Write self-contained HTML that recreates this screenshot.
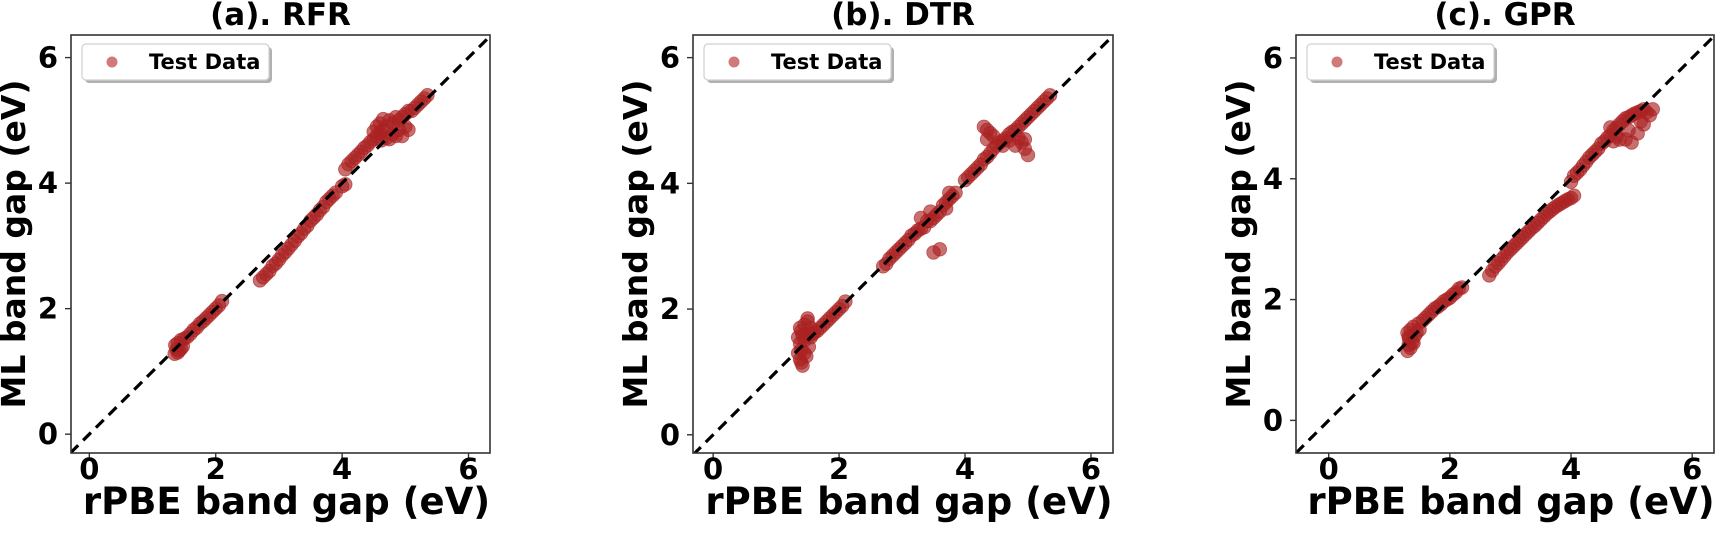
<!DOCTYPE html>
<html><head><meta charset="utf-8">
<style>
html,body{margin:0;padding:0;background:#fff;}
svg{display:block;}
text{font-family:"DejaVu Sans","Liberation Sans",sans-serif;font-weight:bold;fill:#000;}
</style></head>
<body>
<svg id="fig" width="1717" height="533" viewBox="0 0 1717 533" xmlns="http://www.w3.org/2000/svg"></svg>
<script>
// ---- data ----
const panelTitles = ["(a). RFR", "(b). DTR", "(c). GPR"];
const tickValues = [0, 2, 4, 6];
const tickLabels = ["0", "2", "4", "6"];
const xLabel = "rPBE band gap (eV)";
const yLabel = "ML band gap (eV)";
const legendLabel = "Test Data";

const rfrX = [1.35,1.38,1.40,1.42,1.45,1.48,1.50,1.55,1.60,1.65,1.70,1.75,1.80,1.85,1.90,1.95,2.00,2.05,2.10,1.36,1.40,1.45,
 2.70,2.75,2.80,2.85,2.90,2.95,3.00,3.05,3.10,3.15,3.20,3.25,3.30,3.35,3.40,3.45,3.50,3.55,3.60,3.65,3.70,3.75,3.80,3.85,3.90,4.00,4.05,
 4.05,4.10,4.15,4.20,4.25,4.30,4.35,4.40,4.45,4.50,4.55,4.60,4.60,4.65,4.70,4.70,4.75,4.80,4.80,4.85,4.90,4.90,4.95,5.00,5.00,5.05,5.10,5.15,5.20,5.25,5.30,5.35,4.55,4.65,4.75,4.85,4.95,5.05,4.50,4.62];
const rfrY = [1.28,1.35,1.45,1.33,1.50,1.40,1.52,1.55,1.60,1.66,1.70,1.76,1.80,1.85,1.90,1.95,2.00,2.05,2.12,1.42,1.30,1.36,
 2.45,2.50,2.55,2.60,2.68,2.72,2.78,2.85,2.90,2.96,3.02,3.08,3.15,3.20,3.27,3.32,3.40,3.45,3.50,3.57,3.62,3.70,3.75,3.80,3.85,3.95,3.98,
 4.22,4.30,4.35,4.40,4.45,4.50,4.56,4.60,4.66,4.70,4.75,4.80,4.95,4.85,4.90,4.72,5.00,4.95,4.78,5.05,5.00,4.85,5.05,5.10,4.90,5.15,5.15,5.20,5.25,5.30,5.35,5.40,4.90,5.02,4.70,4.75,4.75,4.85,4.82,4.68];

const dtrX = [1.35,1.35,1.38,1.38,1.40,1.40,1.42,1.45,1.45,1.48,1.50,1.50,1.52,1.55,1.55,1.58,1.40,1.45,1.50,1.60,1.65,1.70,1.75,1.80,1.85,1.90,1.95,2.00,2.05,2.10,1.38,1.42,
 2.70,2.75,2.80,2.85,2.90,2.95,3.00,3.05,3.10,3.15,3.20,3.25,3.30,3.35,3.40,3.45,3.50,3.55,3.60,3.65,3.70,3.75,3.80,3.50,3.60,3.30,3.45,3.75,3.85,3.70,
 4.00,4.05,4.10,4.15,4.20,4.25,4.30,4.35,4.40,4.45,4.50,4.55,4.60,4.65,4.70,4.75,4.80,4.85,4.90,4.95,5.00,5.05,5.10,5.15,5.20,5.25,5.30,5.35,4.30,4.35,4.40,4.45,4.35,4.80,4.90,4.95,5.00,4.95,4.85,4.70,4.60];
const dtrY = [1.30,1.55,1.20,1.45,1.65,1.35,1.10,1.50,1.75,1.25,1.60,1.85,1.40,1.55,1.70,1.60,1.15,1.30,1.80,1.62,1.65,1.70,1.75,1.80,1.85,1.90,1.95,2.00,2.05,2.12,1.70,1.58,
 2.68,2.72,2.80,2.85,2.90,2.95,3.00,3.05,3.10,3.17,3.20,3.25,3.28,3.30,3.40,3.40,3.45,3.50,3.55,3.65,3.60,3.75,3.80,2.90,2.95,3.45,3.55,3.85,3.85,3.70,
 4.05,4.10,4.15,4.20,4.25,4.30,4.38,4.42,4.48,4.55,4.60,4.65,4.68,4.72,4.78,4.82,4.85,4.90,4.95,5.00,5.05,5.10,5.15,5.20,5.25,5.30,5.35,5.40,4.90,4.85,4.80,4.75,4.70,4.60,4.65,4.55,4.45,4.70,4.72,4.68,4.60];

const gprX = [1.30,1.30,1.32,1.33,1.35,1.35,1.38,1.40,1.42,1.45,1.48,1.50,1.55,1.60,1.65,1.70,1.75,1.80,1.85,1.90,1.95,2.00,2.05,2.10,2.15,2.20,1.32,1.40,
 2.65,2.70,2.75,2.80,2.85,2.90,2.95,3.00,3.05,3.10,3.15,3.20,3.25,3.30,3.35,3.40,3.45,3.50,3.55,3.60,3.65,3.70,3.75,3.80,3.85,3.90,3.95,4.00,4.05,
 4.00,4.05,4.10,4.15,4.20,4.25,4.30,4.35,4.40,4.45,4.50,4.55,4.60,4.65,4.70,4.75,4.80,4.85,4.90,4.95,5.00,5.05,5.10,5.15,5.20,5.25,5.30,5.35,4.70,4.80,4.90,5.00,5.10,5.20,4.75,4.95,5.15,4.65];
const gprY = [1.15,1.45,1.25,1.35,1.20,1.50,1.30,1.55,1.40,1.45,1.60,1.50,1.65,1.70,1.75,1.80,1.85,1.88,1.92,1.97,2.00,2.03,2.08,2.12,2.18,2.20,1.38,1.28,
 2.40,2.48,2.55,2.60,2.66,2.72,2.78,2.83,2.88,2.93,2.98,3.03,3.08,3.13,3.18,3.22,3.27,3.32,3.37,3.42,3.46,3.50,3.54,3.57,3.60,3.63,3.66,3.68,3.72,
 3.95,4.05,4.10,4.15,4.22,4.28,4.35,4.40,4.45,4.50,4.58,4.62,4.68,4.72,4.80,4.85,4.90,4.95,5.00,5.02,5.05,5.08,5.10,5.12,5.15,5.10,5.05,5.15,4.62,4.65,4.65,4.60,4.75,4.90,4.70,4.80,4.95,4.85];

const panelXs = [rfrX, dtrX, gprX];
const panelYs = [rfrY, dtrY, gprY];
const xLims = [[-0.29, 6.34], [-0.32, 6.35], [-0.54, 6.36]];
const yLims = [[-0.30, 6.36], [-0.29, 6.36], [-0.54, 6.38]];

// ---- layout ----
const frames = [
  {left:71, right:490, top:35, bottom:453},
  {left:693, right:1113, top:35, bottom:453},
  {left:1296, right:1714, top:35, bottom:453}
];
const NS = "http://www.w3.org/2000/svg";
const svg = document.getElementById("fig");
function mk(tag, attrs, parent){
  const e = document.createElementNS(NS, tag);
  for (const k in attrs) e.setAttribute(k, attrs[k]);
  (parent||svg).appendChild(e);
  return e;
}

frames.forEach((f, p) => {
  const xl = xLims[p], yl = yLims[p];
  const sx = v => f.left + (v - xl[0]) / (xl[1] - xl[0]) * (f.right - f.left);
  const sy = v => f.bottom - (v - yl[0]) / (yl[1] - yl[0]) * (f.bottom - f.top);
  const g = mk("g", {});
  
  
  const cx = (f.left + f.right) / 2, cy = (f.top + f.bottom) / 2;

  const t = mk("text", {x: cx, y: 25, "text-anchor": "middle", "font-size": 31}, g);
  t.textContent = panelTitles[p];
  
  

  const pts = mk("g", {}, g);
  
  
  const xs = panelXs[p], ys = panelYs[p];
  for (let i = 0; i < xs.length; i++) {
    const c = mk("circle", {cx: sx(xs[i]), cy: sy(ys[i]), r: 6.8, fill: "rgb(170,34,34)", "fill-opacity": 0.65, stroke: "rgb(170,34,34)", "stroke-opacity": 0.65, "stroke-width": 0.8}, pts);
    
    
  }

  const d = mk("line", {x1: sx(Math.min(xl[0],yl[0])), y1: sy(Math.min(xl[0],yl[0])), x2: sx(Math.max(xl[1],yl[1])), y2: sy(Math.max(xl[1],yl[1])), stroke: "#000", "stroke-width": 3.2, "stroke-dasharray": "11,7"}, g);
  
  
  const cid = "clip" + p;
  const cp = mk("clipPath", {id: cid}, g);
  mk("rect", {x: f.left, y: f.top, width: f.right - f.left, height: f.bottom - f.top}, cp);
  d.setAttribute("clip-path", "url(#" + cid + ")");

  const fr = mk("rect", {x: f.left, y: f.top, width: f.right - f.left, height: f.bottom - f.top, fill: "none", stroke: "#333", "stroke-width": 1.6}, g);
  
  

  tickValues.forEach((v, i) => {
    const X = sx(v);
    mk("line", {x1: X, x2: X, y1: f.bottom, y2: f.bottom + 6, stroke: "#333", "stroke-width": 1.4}, g);
    const tx = mk("text", {x: X, y: f.bottom + 26, "text-anchor": "middle", "font-size": 29}, g);
    tx.textContent = tickLabels[i];
    
    
    const Y = sy(v);
    mk("line", {x1: f.left - 6, x2: f.left, y1: Y, y2: Y, stroke: "#333", "stroke-width": 1.4}, g);
    const ty = mk("text", {x: f.left - 13, y: Y + 10, "text-anchor": "end", "font-size": 29}, g);
    ty.textContent = tickLabels[i];
    
    
  });

  const xt = mk("text", {x: cx + 6, y: 514, "text-anchor": "middle", "font-size": 37}, g);
  xt.textContent = xLabel;
  
  
  const yx = f.left - 46;
  const yt = mk("text", {x: yx, y: cy, "text-anchor": "middle", "font-size": 33, transform: "rotate(-90 " + yx + " " + cy + ")"}, g);
  yt.textContent = yLabel;
  
  

  const lg = mk("g", {}, g);
  
  
  const lx = f.left + 11, ly = f.top + 9;
  mk("rect", {x: lx + 3, y: ly + 3, width: 187, height: 36, rx: 4, fill: "#b0b0b0"}, lg);
  mk("rect", {x: lx, y: ly, width: 187, height: 36, rx: 4, fill: "#fff", stroke: "#d0d0d0", "stroke-width": 1.2}, lg);
  const lm = mk("circle", {cx: lx + 30, cy: ly + 18, r: 5.5, fill: "rgb(178,34,34)", "fill-opacity": 0.6}, lg);
  
  
  const lt = mk("text", {x: lx + 67, y: ly + 25, "font-size": 21}, lg);
  lt.textContent = legendLabel;
  
  
});
</script>
</body></html>
